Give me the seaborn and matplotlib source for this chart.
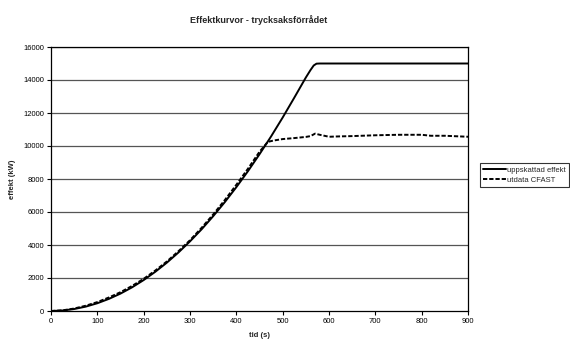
import matplotlib
matplotlib.use("Agg")
import matplotlib.pyplot as plt
import seaborn as sns
import pandas as pd
from matplotlib.lines import Line2D

# Data
t_est = [0, 25, 50, 75, 100, 125, 150, 175, 200, 225, 250, 275, 300, 325, 350, 375,
         400, 425, 450, 475, 500, 525, 550, 560, 567, 573, 580, 600, 700, 800, 900]
q_est = [0, 30, 120, 265, 470, 735, 1055, 1435, 1875, 2375, 2930, 3545, 4220, 4950,
         5745, 6595, 7505, 8470, 9500, 10580, 11725, 12925, 14150, 14600, 14880, 14990,
         15000, 15000, 15000, 15000, 15000]

t_cfast = [0, 25, 50, 75, 100, 125, 150, 175, 200, 225, 250, 275, 300, 325, 350, 375,
           400, 425, 450, 468, 480, 500, 525, 550, 560, 570, 580, 600, 620, 650, 700,
           750, 800, 820, 850, 900]
q_cfast = [0, 40, 150, 320, 540, 820, 1140, 1520, 1950, 2450, 3000, 3620, 4290, 5040,
           5850, 6720, 7650, 8620, 9650, 10250, 10330, 10420, 10480, 10550, 10600, 10750,
           10680, 10560, 10580, 10600, 10650, 10680, 10680, 10620, 10620, 10560]

series_names = ["uppskattad effekt", "utdata CFAST"]
title = "Effektkurvor - trycksaksförrådet"
xlabel = "tid (s)"
ylabel = "effekt (kW)"

df = pd.concat([
    pd.DataFrame({"t": t_est, "q": q_est, "serie": series_names[0]}),
    pd.DataFrame({"t": t_cfast, "q": q_cfast, "serie": series_names[1]}),
], ignore_index=True)

sns.set_style("white")
plt.rcParams["font.family"] = ["Liberation Sans", "DejaVu Sans"]

fig = plt.figure(figsize=(5.7, 3.4), dpi=100)
ax = fig.add_axes([51 / 570, 29 / 340, 417 / 570, 264 / 340])

for y in range(2000, 16001, 2000):
    ax.axhline(y, color="#555555", lw=0.9, zorder=1)

sns.lineplot(data=df, x="t", y="q", hue="serie", style="serie",
             palette=["black", "black"],
             dashes={series_names[0]: "", series_names[1]: (2.2, 1.0)},
             linewidth=1.4, ax=ax, legend=False, zorder=3)

ax.set_xlim(0, 900)
ax.set_ylim(0, 16000)
ax.set_xticks(range(0, 901, 100))
ax.set_yticks(range(0, 16001, 2000))
ax.tick_params(axis="both", labelsize=5.5, direction="out", length=3, width=0.8,
               colors="black", pad=2)
ax.tick_params(axis="x", bottom=True)
ax.tick_params(axis="y", left=True)
for s in ax.spines.values():
    s.set_color("black")
    s.set_linewidth(0.9)

ax.set_xlabel(xlabel, fontsize=5.5, fontweight="bold", labelpad=5)
ax.set_ylabel(ylabel, fontsize=5.5, fontweight="bold", labelpad=5)
fig.text(259 / 570, 1 - 20 / 340, title, ha="center", va="center",
         fontsize=6.5, fontweight="bold")

handles = [Line2D([], [], color="black", lw=1.4),
           Line2D([], [], color="black", lw=1.4, dashes=(2.2, 1.0))]
leg = fig.legend(handles, series_names, loc="center left",
                 bbox_to_anchor=(480 / 570, 1 - 175 / 340), fontsize=5.5,
                 frameon=True, fancybox=False, edgecolor="black",
                 handlelength=3.0, handletextpad=0.15, borderpad=0.4,
                 labelspacing=0.35, borderaxespad=0)
leg.get_frame().set_linewidth(0.8)

fig.savefig("out.png", dpi=100)
